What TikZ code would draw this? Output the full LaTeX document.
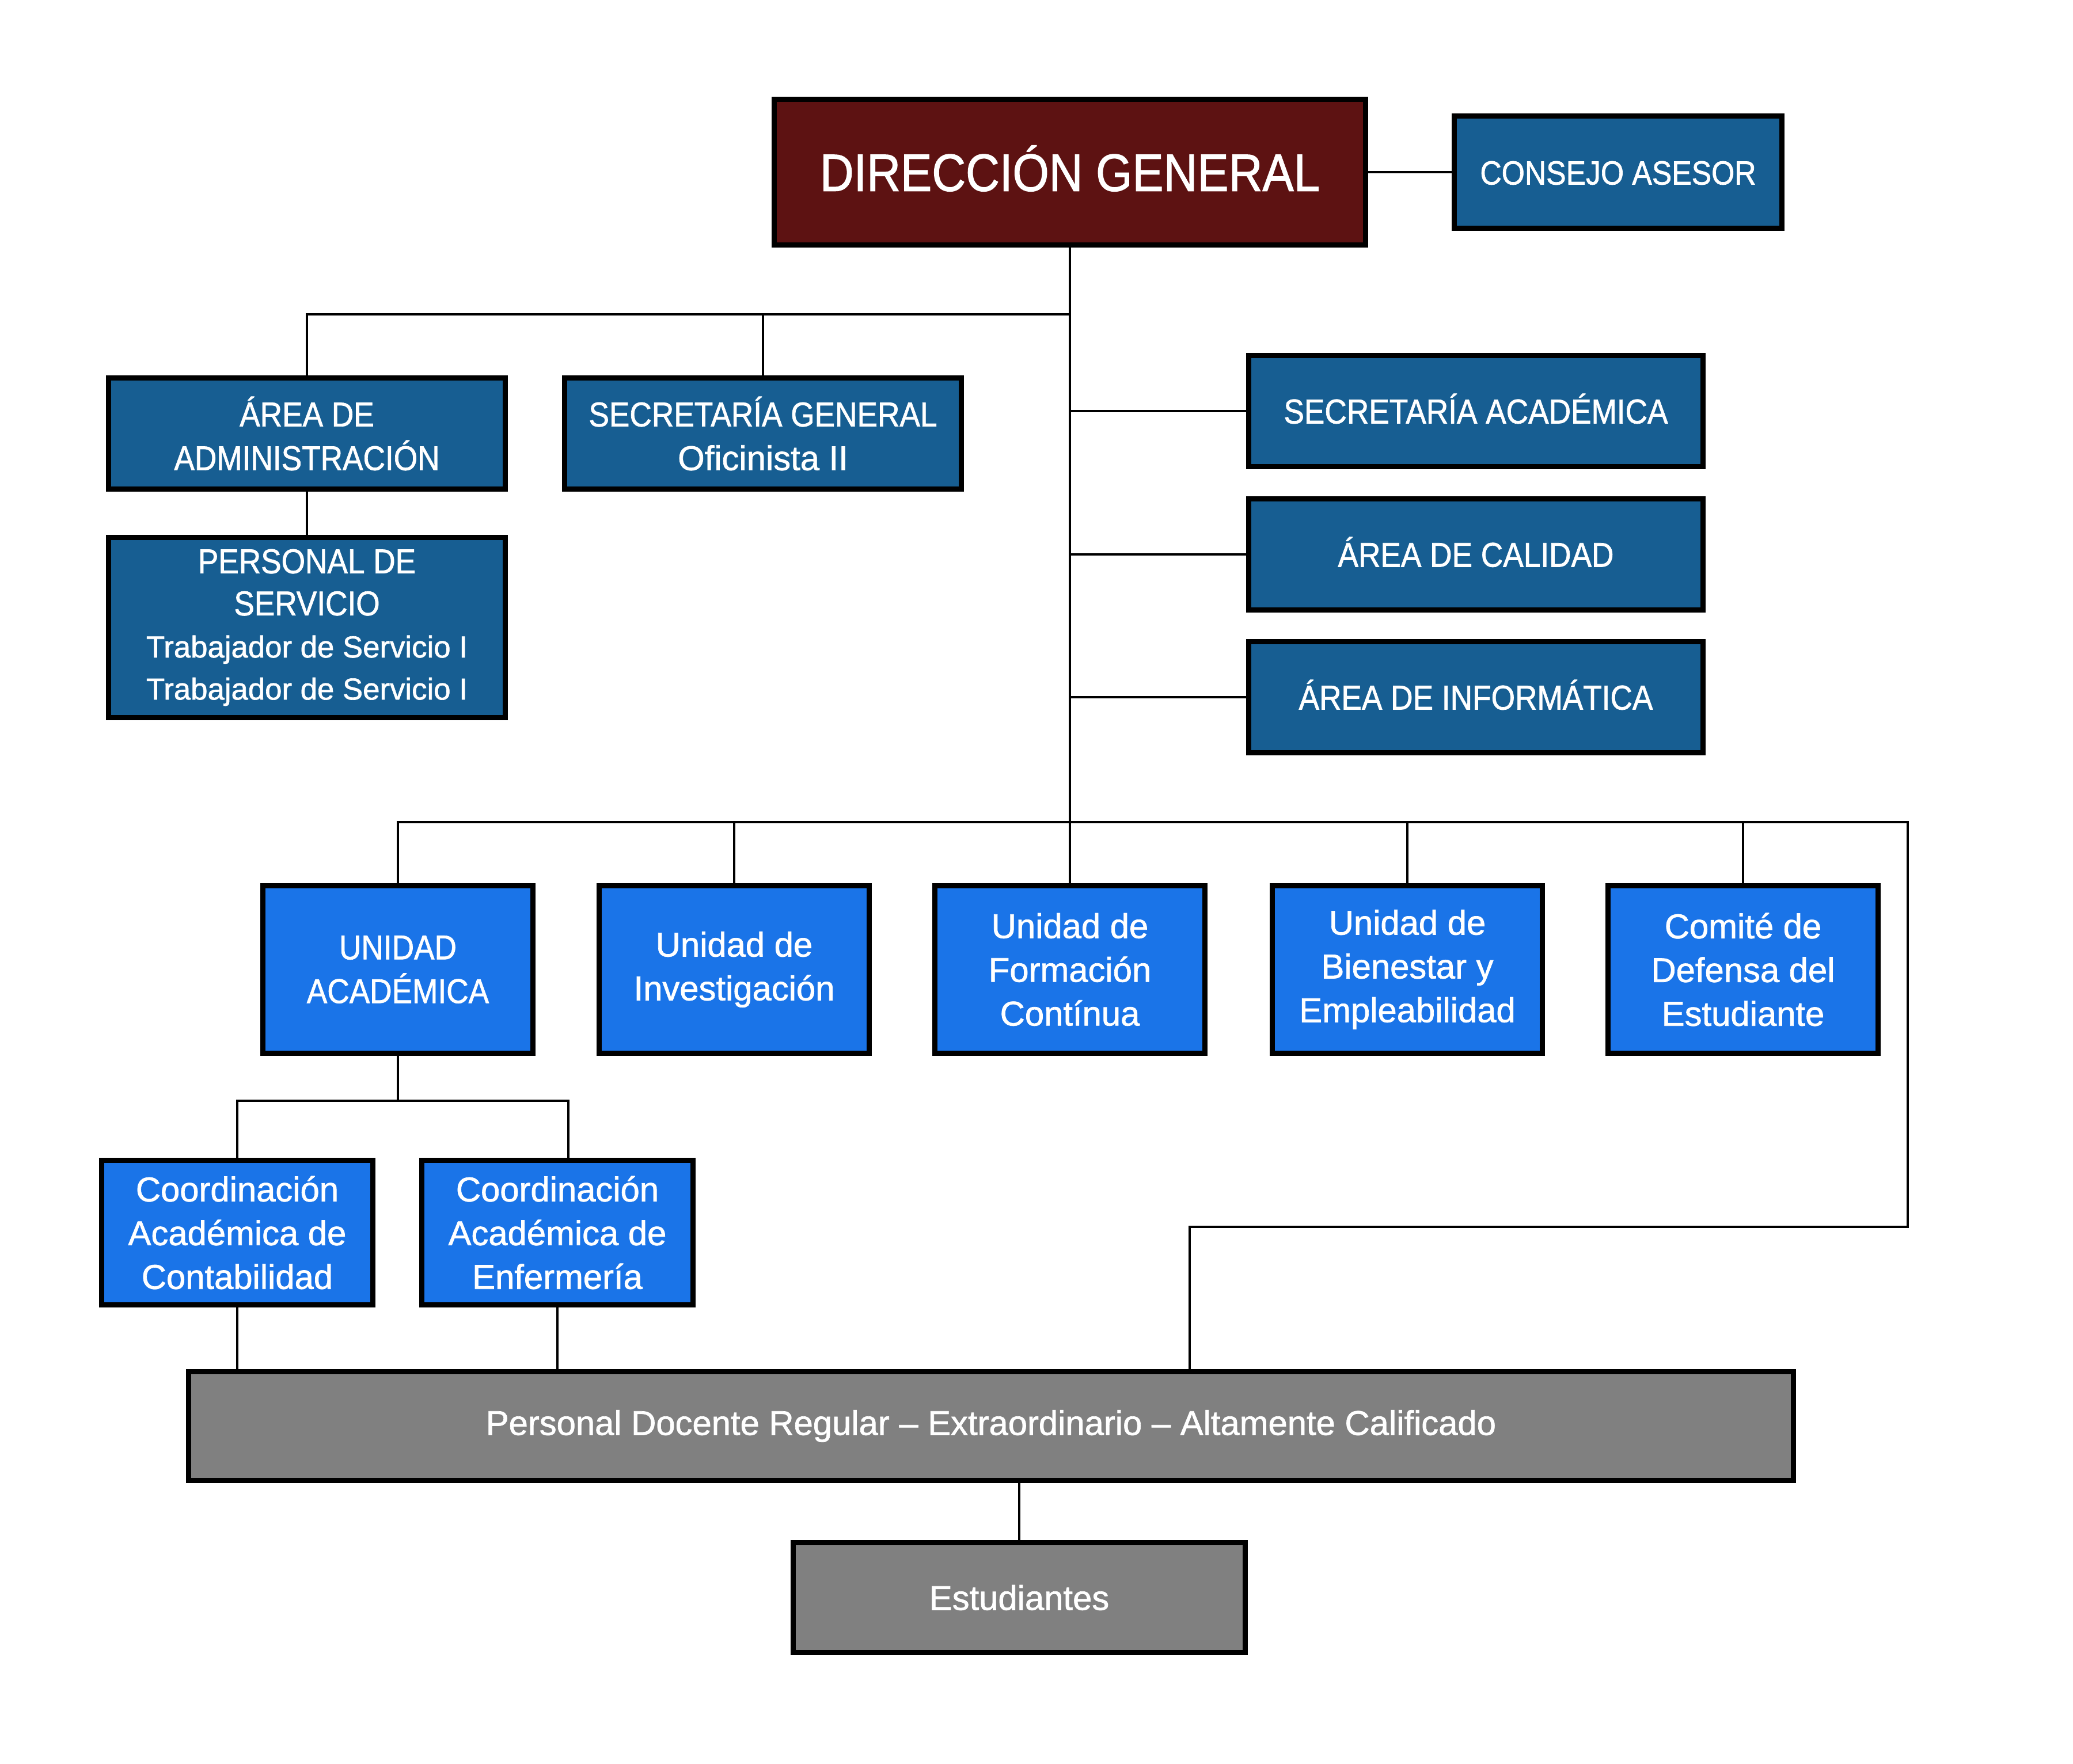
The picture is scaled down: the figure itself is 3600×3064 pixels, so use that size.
\documentclass[tikz,border=0pt]{standalone}
\usepackage{fontspec}
\setmainfont{Liberation Sans}[FakeBold=1.2]
\newfontfamily\capsfont{Liberation Sans}[FakeStretch=0.89, FakeBold=1.2]
\newcommand\capsline[1]{{\capsfont #1}}
\newcommand\smallline[1]{{\fontsize{15}{20.8}\selectfont #1}}
\usetikzlibrary{calc}
\definecolor{dgred}{HTML}{5D1212}
\definecolor{navyblue}{HTML}{175E92}
\definecolor{brightblue}{HTML}{1A74E8}
\definecolor{greybox}{HTML}{808080}
\tikzset{
  box/.style={draw=black, line width=0.09cm, text=white, align=center,
    inner sep=0pt, font=\fontsize{17}{21.6}\selectfont},
  capstext/.style={font=\capsfont\fontsize{17}{21.6}\selectfont},
  oneline/.style={capstext, text height=12.2pt, text depth=0pt},
  dgbox/.style={box, fill=dgred, font=\capsfont\fontsize{26}{30}\selectfont,
    text height=18.6pt, text depth=0pt,
    minimum width=10.26cm, minimum height=2.52cm},
  navybox/.style={box, fill=navyblue},
  unitbox/.style={box, fill=brightblue, minimum width=4.69cm, minimum height=2.91cm},
  coordbox/.style={box, fill=brightblue, minimum width=4.71cm, minimum height=2.51cm},
  greybx/.style={box, fill=greybox},
  wire/.style={line width=0.045cm, draw=black}
}
\begin{document}
\begin{tikzpicture}[x=0.01cm, y=-0.01cm]
\useasboundingbox (0,0) rectangle (3600,3064);

% top level
\node[dgbox] (dg) at (1858,299) {DIRECCIÓN GENERAL};
\node[navybox, oneline, font=\capsfont\fontsize{16.5}{21.6}\selectfont,
  minimum width=5.69cm, minimum height=1.94cm] (ca) at (2810,299) {CONSEJO ASESOR};

% left branch
\node[navybox, capstext, minimum width=6.89cm, minimum height=1.93cm] (aa) at (533,753) {ÁREA DE\\ADMINISTRACIÓN};
\node[navybox, minimum width=6.89cm, minimum height=1.93cm] (sg) at (1325,753)
  {\capsline{SECRETARÍA GENERAL}\\Oficinista II};
\node[navybox, font=\fontsize{17}{20.8}\selectfont, minimum width=6.89cm, minimum height=3.12cm] (ps) at (533,1090)
  {\capsline{PERSONAL DE}\\\capsline{SERVICIO}\\\smallline{Trabajador de Servicio I}\\\smallline{Trabajador de Servicio I}};

% right staff areas
\node[navybox, oneline, minimum width=7.88cm, minimum height=1.93cm] (sa) at (2563,714) {SECRETARÍA ACADÉMICA};
\node[navybox, oneline, minimum width=7.88cm, minimum height=1.93cm] (ac) at (2563,963) {ÁREA DE CALIDAD};
\node[navybox, oneline, minimum width=7.88cm, minimum height=1.93cm] (ai) at (2563,1211) {ÁREA DE INFORMÁTICA};

% units
\node[unitbox, capstext] (u1) at (691,1684) {UNIDAD\\ACADÉMICA};
\node[unitbox] (u2) at (1275,1684) {Unidad de\\Investigación};
\node[unitbox] (u3) at (1858,1684) {Unidad de\\Formación\\Contínua};
\node[unitbox] (u4) at (2444,1684) {Unidad de\\Bienestar y\\Empleabilidad};
\node[unitbox] (u5) at (3027,1684) {Comité de\\Defensa del\\Estudiante};

% coordinations
\node[coordbox] (c1) at (412,2141) {Coordinación\\Académica de\\Contabilidad};
\node[coordbox] (c2) at (968,2141) {Coordinación\\Académica de\\Enfermería};

% teaching staff and students
\node[greybx, minimum width=27.85cm, minimum height=1.88cm] (pd) at (1721,2477)
  {Personal Docente Regular – Extraordinario – Altamente Calificado};
\node[greybx, minimum width=7.85cm, minimum height=1.90cm] (est) at (1770,2775) {Estudiantes};

% bus points
\coordinate (topbus) at (1858,546);
\coordinate (mainbus) at (1858,1428);
\coordinate (loopR) at (3313,1428);
\coordinate (pdIn) at (2066,2131);
\coordinate (uaBus) at (691,1912);
\coordinate (c2in) at ($(c2.north)+(19,0)$);

% connectors
\draw[wire] (dg.east) -- (ca.west);
\draw[wire] (dg.south) -- (mainbus);
\draw[wire] (aa.north) |- (topbus);
\draw[wire] (sg.north) -- (sg.north |- topbus);
\draw[wire] (aa.south) -- (ps.north);
\foreach \n in {sa,ac,ai}
  \draw[wire] (\n.west) -- (\n.west -| dg.south);
\draw[wire] (u1.north) |- (loopR) |- (pdIn) -- (pdIn |- pd.north);
\foreach \n in {u2,u3,u4,u5}
  \draw[wire] (\n.north) -- (\n.north |- mainbus);
\draw[wire] (u1.south) -- (uaBus);
\draw[wire] (c1.north) |- (uaBus) -| (c2in);
\draw[wire] (c1.south) -- (c1.south |- pd.north);
\draw[wire] (c2.south) -- (c2.south |- pd.north);
\draw[wire] (est.north |- pd.south) -- (est.north);
\end{tikzpicture}
\end{document}
